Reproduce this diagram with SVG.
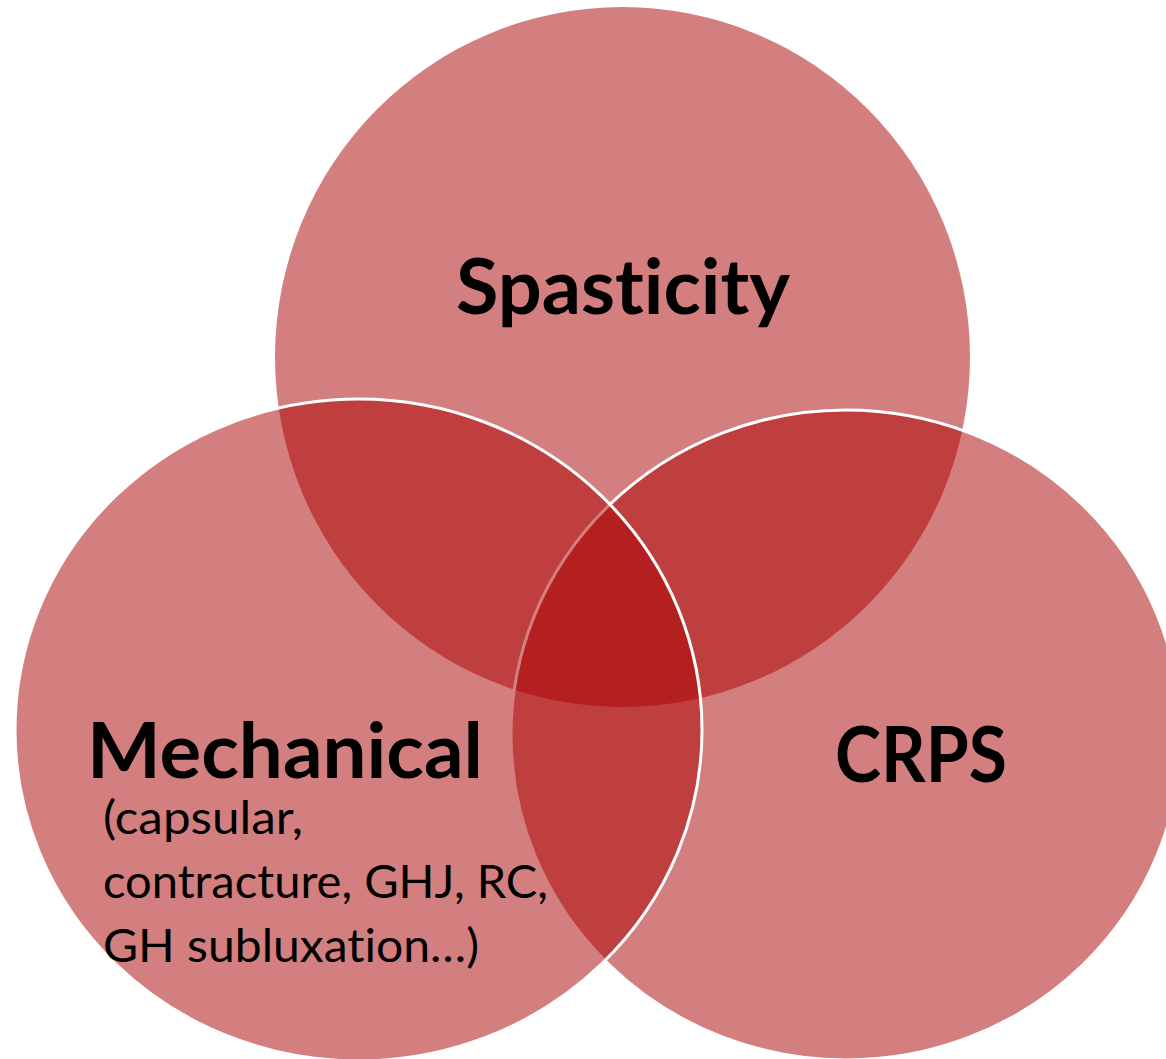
<svg xmlns="http://www.w3.org/2000/svg" width="1166" height="1059" viewBox="0 0 1166 1059">
  <style>
    .set { fill: #A90000; fill-opacity: 0.5; }
    .edge { stroke: #FFFFFF; stroke-width: 3; }
    .title { font-family: Lato, "Open Sans", "Liberation Sans", sans-serif; font-weight: 700; font-size: 76px; fill: #000000; font-variant-ligatures: none; font-feature-settings: "liga" 0, "clig" 0; }
    .note { font-family: Lato, "Open Sans", "Liberation Sans", sans-serif; font-weight: 400; font-size: 46px; fill: #000000; font-variant-ligatures: none; font-feature-settings: "liga" 0, "clig" 0; }
  </style>
  <rect x="0" y="0" width="1166" height="1059" fill="#FFFFFF"/>
  <g id="node-spasticity">
    <ellipse class="set" cx="622.5" cy="357" rx="347.5" ry="350"/>
    <text class="title" x="456" y="314" textLength="334" lengthAdjust="spacingAndGlyphs">Spasticity</text>
  </g>
  <g id="node-crps">
    <ellipse class="set edge" cx="846" cy="735" rx="335" ry="325"/>
    <text class="title" x="835" y="782" textLength="172" lengthAdjust="spacingAndGlyphs">CRPS</text>
  </g>
  <g id="node-mechanical">
    <ellipse class="set edge" cx="358.5" cy="730" rx="343.5" ry="331"/>
    <text class="title" x="87" y="778" textLength="396" lengthAdjust="spacingAndGlyphs">Mechanical</text>
    <text class="note" x="103" y="834" textLength="200" lengthAdjust="spacingAndGlyphs">(capsular,</text>
    <text class="note" x="103" y="898" textLength="445" lengthAdjust="spacingAndGlyphs">contracture, GHJ, RC,</text>
    <text class="note" x="103" y="962" textLength="376" lengthAdjust="spacingAndGlyphs">GH subluxation…)</text>
  </g>
</svg>
